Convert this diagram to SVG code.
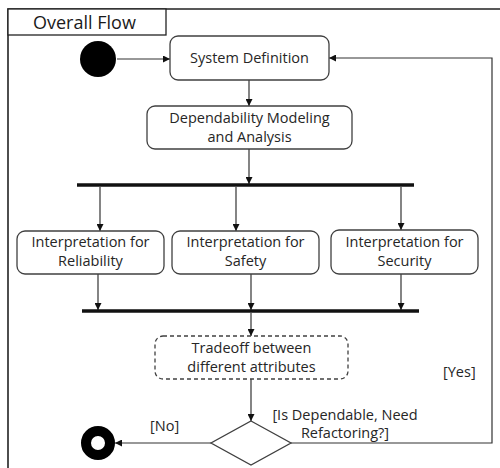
<svg xmlns="http://www.w3.org/2000/svg" width="500" height="468" viewBox="0 0 500 468">
<style>
.box{fill:#fff;stroke:#404040;stroke-width:1.3}
.dash{fill:#fff;stroke:#404040;stroke-width:1.3;stroke-dasharray:4 3}
.t{font-family:"Open Sans","Noto Sans",sans-serif;font-size:14.5px;fill:#262626;text-anchor:middle}
.l{font-family:"Open Sans","Noto Sans",sans-serif;font-size:14.5px;fill:#262626}
.c{fill:none;stroke:#333;stroke-width:1.2}
.bar{stroke:#111;stroke-width:3.5}
</style>
<defs>
<marker id="ah" viewBox="0 0 10 10" refX="10" refY="5" markerWidth="7" markerHeight="7" markerUnits="userSpaceOnUse" orient="auto">
<path d="M0,0 L10,5 L0,10 z" fill="#111"/>
</marker>
</defs>
<rect width="500" height="468" fill="#fff"/>
<g id="frame">
<path d="M8,468 L8,9 L500,9" fill="none" stroke="#222" stroke-width="1.6"/>
<rect x="8" y="9" width="158" height="26" fill="#fff" stroke="#222" stroke-width="1.3"/>
<text x="33" y="29" style="font-family:'Open Sans','Noto Sans',sans-serif;font-size:18px;fill:#1a1a1a">Overall Flow</text>
</g>
<g id="connectors">
<line class="c" x1="117" y1="59" x2="170" y2="59" marker-end="url(#ah)"/>
<line class="c" x1="249" y1="80" x2="249" y2="106" marker-end="url(#ah)"/>
<line class="c" x1="249" y1="149" x2="249" y2="184" marker-end="url(#ah)"/>
<line class="bar" x1="77" y1="185" x2="414" y2="185"/>
<line class="c" x1="100" y1="187" x2="100" y2="231" marker-end="url(#ah)"/>
<line class="c" x1="236" y1="187" x2="236" y2="231" marker-end="url(#ah)"/>
<line class="c" x1="401" y1="187" x2="401" y2="230" marker-end="url(#ah)"/>
<line class="c" x1="98" y1="274" x2="98" y2="310" marker-end="url(#ah)"/>
<line class="c" x1="251" y1="274" x2="251" y2="310" marker-end="url(#ah)"/>
<line class="c" x1="401" y1="274" x2="401" y2="310" marker-end="url(#ah)"/>
<line class="bar" x1="82" y1="311" x2="419" y2="311"/>
<line class="c" x1="251" y1="313" x2="251" y2="336" marker-end="url(#ah)"/>
<line class="c" x1="251" y1="379" x2="251" y2="421" marker-end="url(#ah)"/>
<line class="c" x1="211" y1="443" x2="115" y2="443" marker-end="url(#ah)"/>
<polyline class="c" points="291,443 492,443 492,58 329,58" marker-end="url(#ah)"/>
<text class="l" x="150" y="431">[No]</text>
<text class="l" x="443" y="377">[Yes]</text>
<text class="t" x="345" y="420">[Is Dependable, Need</text>
<text class="t" x="345" y="438">Refactoring?]</text>
</g>
<g id="start"><circle cx="98" cy="59" r="18" fill="#000"/></g>
<g id="sysdef">
<rect class="box" x="170" y="36" width="159" height="44" rx="8"/>
<text class="t" x="249.5" y="63">System Definition</text>
</g>
<g id="depmodel">
<rect class="box" x="147" y="106" width="205" height="43" rx="8"/>
<text class="t" x="249.5" y="123">Dependability Modeling</text>
<text class="t" x="249.5" y="142">and Analysis</text>
</g>
<g id="reliability">
<rect class="box" x="17" y="231" width="147" height="43" rx="8"/>
<text class="t" x="90.5" y="247">Interpretation for</text>
<text class="t" x="90.5" y="266">Reliability</text>
</g>
<g id="safety">
<rect class="box" x="172" y="231" width="147" height="43" rx="8"/>
<text class="t" x="245.5" y="247">Interpretation for</text>
<text class="t" x="245.5" y="266">Safety</text>
</g>
<g id="security">
<rect class="box" x="331" y="230" width="147" height="44" rx="8"/>
<text class="t" x="404.5" y="247">Interpretation for</text>
<text class="t" x="404.5" y="266">Security</text>
</g>
<g id="tradeoff">
<rect class="dash" x="155" y="336" width="193" height="43" rx="8"/>
<text class="t" x="251.5" y="353">Tradeoff between</text>
<text class="t" x="251.5" y="372">different attributes</text>
</g>
<g id="decision">
<polygon class="box" points="251,421 291,443 251,465 211,443"/>
</g>
<g id="end">
<circle cx="98" cy="443" r="12" fill="#fff" stroke="#000" stroke-width="10"/>
</g>
</svg>
